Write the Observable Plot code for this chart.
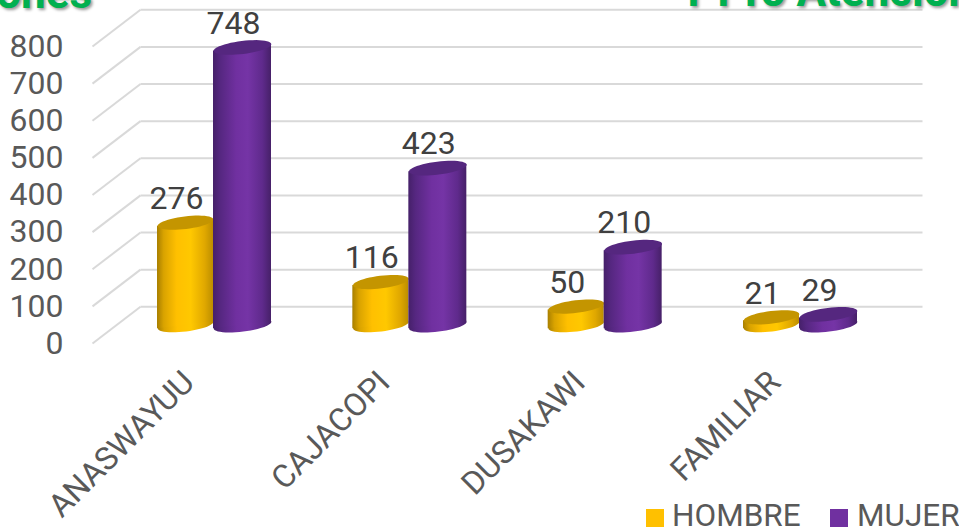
<!DOCTYPE html>
<html>
<head>
<meta charset="utf-8">
<script src="https://cdn.jsdelivr.net/npm/d3@7"></script>
<script src="https://cdn.jsdelivr.net/npm/@observablehq/plot@0.6"></script>
<style>
html,body{margin:0;padding:0;background:#fff;width:959px;height:530px;overflow:hidden;font-family:Roboto,sans-serif}
#wrap{position:relative;width:959px;height:530px;overflow:hidden}
#wrap svg{display:block}
.t{position:absolute;font:700 44px/50px Roboto,sans-serif;color:#00B050;text-shadow:2px 2px 3px rgba(0,0,0,.4);white-space:nowrap}
.lg{position:absolute;top:503px;font-size:31.5px;line-height:26px;color:#595959;white-space:nowrap}
.sw{position:absolute;top:509px;width:18px;height:18px}
</style>
</head>
<body>
<div id="wrap">
<div class="t" style="right:867px;top:-32px">Atenciones</div>
<div class="t" style="left:687px;top:-34px">I TTo Atenciones</div>
<div class="sw" style="left:646px;background:#FFC000"></div>
<div class="lg" style="left:672px">HOMBRE</div>
<div class="sw" style="left:830px;background:#7030A0"></div>
<div class="lg" style="left:857px">MUJER</div>
</div>
<script>
const categories = ["ANASWAYUU", "CAJACOPI", "DUSAKAWI", "FAMILIAR"];
const hombre = [276, 116, 50, 21];
const mujer = [748, 423, 210, 29];
const yTicks = [0, 100, 200, 300, 400, 500, 600, 700, 800];

const depth = 99;      // chart depth, in value units
const base = 49.5;     // cylinders stand half way into the depth
const tilt = 9.5;      // the sheared look of the cylinder ends
const xDomain = [-0.1195, 4.1297];
const wH = 0.2867, wM = 0.2969;

function ellipse(rx, ry, deg) {
  const a = deg * Math.PI / 180, c = Math.cos(a), s = Math.sin(a);
  return {draw(ctx) {
    const n = 48;
    for (let i = 0; i <= n; i++) {
      const t = 2 * Math.PI * i / n;
      const ex = rx * Math.cos(t), ey = ry * Math.sin(t);
      const px = ex * c - ey * s, py = ex * s + ey * c;
      if (i === 0) ctx.moveTo(px, py); else ctx.lineTo(px, py);
    }
    ctx.closePath();
  }};
}

const rows = (vals, x1, x2) => vals.flatMap((v, i) => [
  {id: i, x: i + .5 + x1, y1: base - tilt, y2: v + base - tilt},
  {id: i, x: i + .5 + x2, y1: base + tilt, y2: v + base + tilt}
]);
const centers = (vals, off) => vals.map((v, i) => ({x: i + .5 + off, v, base, top: v + base}));

function cylinders(vals, x1, x2, side, top, sym) {
  const c = centers(vals, (x1 + x2) / 2);
  return [
    Plot.dot(c, {x: "x", y: "base", symbol: sym, fill: side, stroke: "none"}),
    Plot.area(rows(vals, x1, x2), {x1: "x", y1: "y1", y2: "y2", z: "id", fill: side, stroke: "none"}),
    Plot.dot(c, {x: "x", y: "top", symbol: sym, fill: top, stroke: "none"})
  ];
}

const defs = () => {
  const s = d3.create("svg:defs");
  const grad = (id, stops) => {
    const g = s.append("linearGradient").attr("id", id).attr("x1", 0).attr("x2", 1).attr("y1", 0).attr("y2", 0);
    stops.forEach(([o, col]) => g.append("stop").attr("offset", o).attr("stop-color", col));
  };
  grad("gH", [[0, "#A87F00"], [.12, "#D9A300"], [.35, "#FFC000"], [.6, "#FFC800"], [.85, "#E0A800"], [1, "#BC8E00"]]);
  grad("gM", [[0, "#452069"], [.12, "#552780"], [.4, "#7030A0"], [.6, "#7534A6"], [.85, "#5F2A8C"], [1, "#462068"]]);
  return s.node();
};

const xCenters = categories.map((c, i) => ({c, x: i + .5}));
const labels = (vals, off) => vals.map((v, i) => ({v, x: i + .5 + off, top: v + base}));

const chart = Plot.plot({
  width: 959, height: 530,
  marginTop: 9.3, marginBottom: 187, marginLeft: 92, marginRight: 37,
  style: {fontFamily: "Roboto, sans-serif", background: "transparent", overflow: "hidden"},
  x: {type: "linear", domain: xDomain, axis: null},
  y: {domain: [0, 800 + depth]},
  marks: [
    defs,
    Plot.link(yTicks, {x1: xDomain[0], x2: xDomain[0] + 48 / 195.33, y1: d => d, y2: d => d + depth, stroke: "#D9D9D9", strokeWidth: 2}),
    Plot.link(yTicks, {x1: xDomain[0] + 48 / 195.33, x2: xDomain[1], y1: d => d + depth, y2: d => d + depth, stroke: "#D9D9D9", strokeWidth: 2}),
    Plot.axisY(yTicks, {tickSize: 0, tickPadding: 29, fontSize: 32, fill: "#595959", tickFormat: d => String(d), label: null}),
    ...cylinders(hombre, -wH, 0, "url(#gH)", "#C49500", ellipse(28, 6.3, -7)),
    ...cylinders(mujer, 0, wM, "url(#gM)", "#55277F", ellipse(29, 6.5, -7)),
    Plot.text(labels(hombre, -wH / 2), {x: "x", y: "top", text: d => String(d.v), dx: -9, dy: -24, fontSize: 32, fill: "#404040"}),
    Plot.text(labels(mujer, wM / 2), {x: "x", y: "top", text: d => String(d.v), dx: -9, dy: -24, fontSize: 32, fill: "#404040"}),
    Plot.text(xCenters, {x: "x", y: 0, text: "c", rotate: -45, textAnchor: "end", dx: -24.5, dy: 33.5, fontSize: 32, fill: "#595959"})
  ]
});
document.getElementById("wrap").prepend(chart);
</script>
</body>
</html>
